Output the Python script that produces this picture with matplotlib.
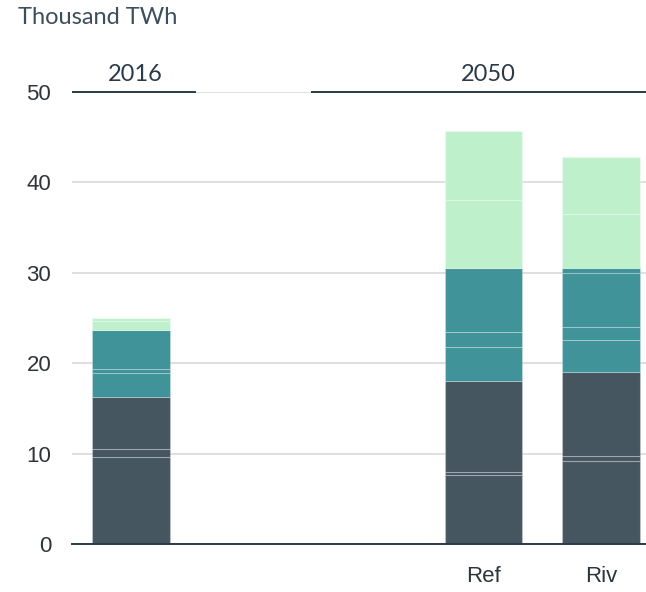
import matplotlib
matplotlib.use("Agg")
import matplotlib.pyplot as plt
import numpy as np

# Datos (miles de TWh)
categorias = ["2016", "Ref", "Riv"]
posiciones = [0, 3, 4]
etiquetas_x = ["", "Ref", "Riv"]

# Capas oscuras
oscuro_1 = [9.6, 7.6, 9.15]
oscuro_2 = [0.9, 0.36, 0.55]
oscuro_3 = [5.76, 10.11, 9.36]
# Capas verde azulado
teal_1 = [2.64, 3.69, 3.47]
teal_2 = [0.5, 1.69, 1.44]
teal_3 = [4.27, 7.11, 5.97]
teal_4 = [0.0, 0.0, 0.62]
# Capas verde claro
claro_1 = [1.03, 7.54, 5.91]
claro_2 = [0.27, 7.6, 6.33]

grupos = ["2016", "2050"]
grupo_centro = [0, 3]
grupo_rango = [(-0.5, 0.556), (1.53, 4.38)]

c_oscuro = "#465661"
c_teal = "#3f9399"
c_claro = "#bff0cc"
c_texto = "#2b3a48"

capas = [
    (oscuro_1, c_oscuro), (oscuro_2, c_oscuro), (oscuro_3, c_oscuro),
    (teal_1, c_teal), (teal_2, c_teal), (teal_3, c_teal), (teal_4, c_teal),
    (claro_1, c_claro), (claro_2, c_claro),
]

fig = plt.figure(figsize=(6.46, 5.92), dpi=100)
ax = fig.add_axes([72 / 646, 1 - 544 / 592, 1 - 72 / 646, (544 - 92) / 592])

base = np.zeros(len(posiciones))
for valores, color in capas:
    ax.bar(posiciones, valores, width=0.66, bottom=base, color=color,
           edgecolor=(1, 1, 1, 0.25), linewidth=0.8, zorder=3)
    base += np.array(valores)

ax.set_xlim(-0.5, 4.38)
ax.set_ylim(0, 50)
ax.set_yticks(range(0, 51, 10))
ax.set_xticks(posiciones)
ax.set_xticklabels(etiquetas_x)
ax.grid(axis="y", color="#dcdcdc", linewidth=1.3, zorder=0)
ax.set_axisbelow(True)

for s in ["top", "right", "left"]:
    ax.spines[s].set_visible(False)
ax.spines["bottom"].set_color(c_texto)
ax.spines["bottom"].set_linewidth(1.4)
ax.spines["bottom"].set_zorder(4)

ax.tick_params(axis="both", length=0, labelsize=16, labelcolor="#2e3438")
ax.tick_params(axis="y", pad=15)
ax.tick_params(axis="x", pad=16)
for t in ax.get_xticklabels() + ax.get_yticklabels():
    t.set_fontfamily("Liberation Sans")

# Encabezados de grupo
for nombre, centro, (x0, x1) in zip(grupos, grupo_centro, grupo_rango):
    ax.plot([x0, x1], [50, 50], color=c_texto, linewidth=1.4,
            clip_on=False, zorder=5, solid_capstyle="butt")
    ax.text(centro + 0.04, 50.75, nombre, ha="center", va="bottom",
            fontsize=17, color=c_texto, family="Lato")

fig.text(18 / 646, 1 - 18 / 592, "Thousand TWh", ha="left", va="center",
         fontsize=17, color="#3d4f5c", family="Lato")

fig.savefig("out.png", dpi=100)
